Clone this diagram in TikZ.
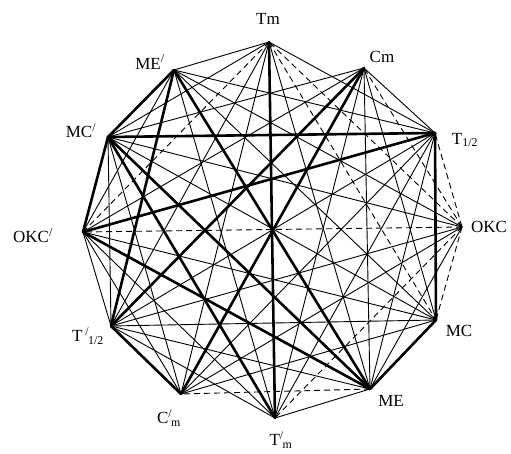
\documentclass[tikz,border=0pt]{standalone}
\usepackage{fontspec}
\setmainfont{Liberation Serif}
\begin{document}
\begin{tikzpicture}[x=1pt,y=-1pt,
  thinedge/.style={line width=0.9pt},
  thickedge/.style={line width=2.6pt, line cap=round},
  dashedge/.style={line width=0.9pt, dash pattern=on 6pt off 4pt},
  vlabel/.style={font=\fontsize{17}{17}\selectfont, inner sep=0pt}]
\useasboundingbox (0,0) rectangle (511,454);
% vertices
\coordinate (Tm)   at (269,42);
\coordinate (Cm)   at (364,68);
\coordinate (T12)  at (435,133);
\coordinate (OKC)  at (462,227);
\coordinate (MC)   at (436,320);
\coordinate (ME)   at (370,389);
\coordinate (Tpm)  at (275,418);
\coordinate (Cpm)  at (181,394);
\coordinate (Tp12) at (111,326);
\coordinate (OKCp) at (83,232);
\coordinate (MCp)  at (108,137);
\coordinate (MEp)  at (174,70);
% thin edges
\foreach \a/\b in {Tm/T12, Tm/ME, Tm/Cpm, Tm/Tp12, Tm/MCp, Tm/MEp,
  Cm/T12, Cm/MC, Cm/ME, Cm/Tpm, Cm/OKCp, Cm/MCp,
  T12/ME, T12/Tpm, T12/Cpm, T12/Tp12, T12/MEp,
  OKC/ME, OKC/Cpm, OKC/Tp12, OKC/MCp, OKC/MEp,
  MC/Cpm, MC/Tp12, MC/OKCp, MC/MCp, MC/MEp,
  ME/Tpm, ME/Tp12, Tpm/MEp, Tpm/OKCp, Tpm/Tp12,
  Cpm/OKCp, Cpm/MCp, Tp12/OKCp, Tp12/MCp, OKCp/MEp}
  \draw[thinedge] (\a) -- (\b);
% dashed edges
\foreach \a/\b in {OKC/OKCp, OKC/Tm, OKC/Cm, OKC/T12, OKC/MC, OKC/Tpm,
  Tm/MC, Tm/OKCp, ME/Cpm}
  \draw[dashedge] (\a) -- (\b);
% thick edges
\foreach \a/\b in {Tm/Tpm, Cm/Cpm, Cm/Tp12, T12/MCp, T12/OKCp, T12/MC,
  MC/ME, ME/MEp, ME/MCp, ME/OKCp, MEp/MCp, MCp/OKCp, Tp12/Cpm,
  MEp/Tp12, MCp/Tpm}
  \draw[thickedge] (\a) -- (\b);
% labels
\node[vlabel] (lTm)   at (268,19)  {Tm};
\node[vlabel] (lCm)   at (382,57)  {Cm};
\node[vlabel] (lT12)  at (465,140) {T\textsubscript{1/2}};
\node[vlabel] (lOKC)  at (489,227) {OKC};
\node[vlabel] (lMC)   at (459,331) {MC};
\node[vlabel] (lME)   at (391,401) {ME};
\node[vlabel] (lTpm)  at (281,440) {T\textsuperscript{/}\kern-1pt\textsubscript{m}};
\node[vlabel] (lCpm)  at (169,418) {C\textsuperscript{/}\kern-1pt\textsubscript{m}};
\node[vlabel] (lTp12) at (88,336)  {T\,\textsuperscript{/}\kern-1pt\textsubscript{1/2}};
\node[vlabel] (lOKCp) at (33,236)  {OKC\textsuperscript{/}};
\node[vlabel] (lMCp)  at (81,131)  {MC\textsuperscript{/}};
\node[vlabel] (lMEp)  at (150,62)  {ME\textsuperscript{/}};
\end{tikzpicture}
\end{document}
